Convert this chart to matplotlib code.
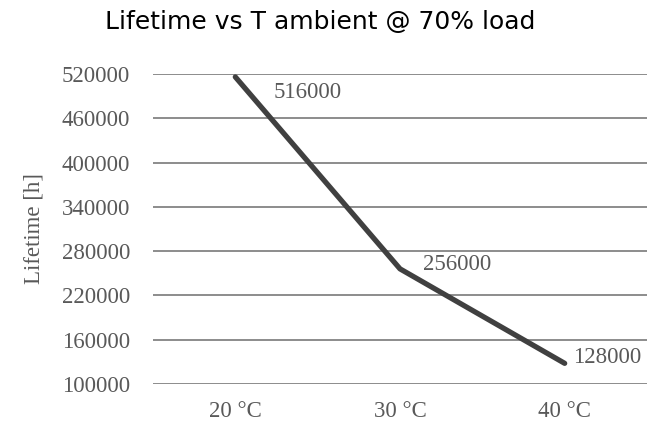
import matplotlib
matplotlib.use('Agg')
import matplotlib.pyplot as plt

# data
temps = ['20 °C', '30 °C', '40 °C']
lifetime = [516000, 256000, 128000]
yticks = [100000, 160000, 220000, 280000, 340000, 400000, 460000, 520000]
# label offsets in pixels (dx, dy) for the value labels
label_offsets = [(38, -16), (23, 4), (8, 6)]

fig = plt.figure(figsize=(6.58, 4.23), dpi=100)
ax = fig.add_axes([0.2325, 0.0922, 0.7508, 0.7329])

x = list(range(len(temps)))
ax.plot(x, lifetime, color='#404040', linewidth=3.8, solid_capstyle='round', zorder=3)

for xi, yi, (dx, dy) in zip(x, lifetime, label_offsets):
    ax.annotate(str(yi), (xi, yi), xytext=(dx, dy), textcoords='offset pixels',
                ha='left', va='center', fontsize=16.5, family='Liberation Serif',
                color='#595959')

ax.set_xlim(-0.5, 2.5)
ax.set_ylim(100000, 520000)
ax.set_yticks(yticks)
ax.set_yticklabels([str(t) for t in yticks])
ax.set_xticks(x)
ax.set_xticklabels(temps)
ax.grid(axis='y', color='#8c8c8c', linewidth=1.4)
ax.set_axisbelow(True)
for s in ax.spines.values():
    s.set_visible(False)
ax.tick_params(length=0, labelsize=16.5, labelcolor='#595959')
ax.tick_params(axis='y', pad=16.5)
ax.tick_params(axis='x', pad=12.5)
for lab in ax.get_xticklabels() + ax.get_yticklabels():
    lab.set_family('Liberation Serif')

ax.set_ylabel('Lifetime [h]', fontsize=16.5, family='Liberation Serif', color='#595959')
ax.yaxis.set_label_coords(-0.22, 0.5)

fig.text(0.486, 0.949, 'Lifetime vs T ambient @ 70% load', ha='center', va='center',
         fontsize=18, family='DejaVu Sans', color='black')

fig.savefig('out.png', dpi=100)
